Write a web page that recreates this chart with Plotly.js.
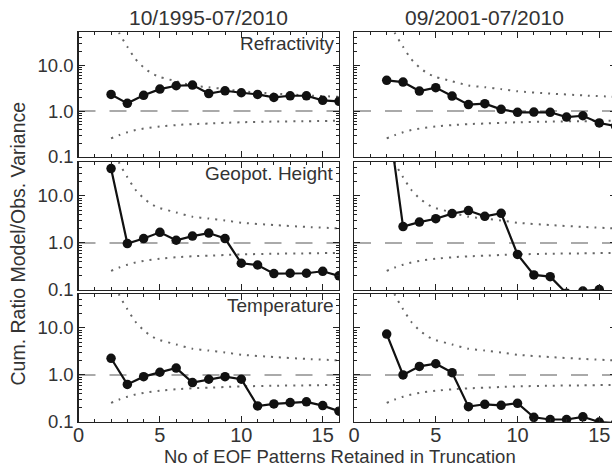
<!DOCTYPE html>
<html>
<head>
<meta charset="utf-8">
<script src="https://cdn.plot.ly/plotly-3.0.1.min.js"></script>
<style>
html,body{margin:0;padding:0;overflow:hidden;background:#fff;}
#chart{width:620px;height:467px;}
</style>
</head>
<body>
<div id="chart"></div>
<script>
// ---- data ----
const eofN = [2,3,4,5,6,7,8,9,10,11,12,13,14,15,16];
const periods = ['10/1995-07/2010', '09/2001-07/2010'];
const variables = ['Refractivity', 'Geopot. Height', 'Temperature'];

const refracLong  = [2.3,1.47,2.2,3.0,3.55,3.67,2.4,2.76,2.5,2.3,1.98,2.15,2.15,1.71,1.63];
const refracShort = [4.65,4.27,2.72,3.23,2.12,1.38,1.45,1.09,0.94,0.95,0.94,0.74,0.79,0.55,0.47];
const geopotLong  = [38,0.97,1.24,1.68,1.14,1.40,1.62,1.24,0.37,0.34,0.223,0.227,0.227,0.25,0.2];
const geopotShort = [800,2.23,2.77,3.27,4.2,4.88,3.67,4.27,0.57,0.209,0.192,0.085,0.095,0.102,0.08];
const tempLong    = [2.26,0.63,0.92,1.14,1.40,0.69,0.81,0.92,0.81,0.219,0.242,0.259,0.268,0.223,0.17];
const tempShort   = [7.4,1.0,1.52,1.73,1.12,0.212,0.238,0.226,0.25,0.126,0.113,0.113,0.129,0.1,0.095];

// significance bounds (dotted), same in every panel
const boundX     = [2,2.5,3,3.5,4,4.5,5,6,7,8,9,10,12,14,16];
const boundUpper = [160,50,25,13.5,8.9,6.6,5.5,4.45,3.6,3.3,3.0,2.69,2.4,2.19,2.04];
const boundLower = [0.255,0.30,0.345,0.385,0.415,0.44,0.46,0.495,0.52,0.535,0.555,0.57,0.59,0.60,0.615];

const refRatio = 1.0;
const xRange = [0,16];

const seriesGrid = [
  [refracLong, refracShort],
  [geopotLong, geopotShort],
  [tempLong, tempShort]
];

// ---- layout geometry ----
const W = 620, H = 467;
const colPx = [[78.5,339],[354,615.6]];
const rowPx = [[32,157],[162,290],[294,422]];

const FONT = 'Liberation Sans, Arial, Helvetica, sans-serif';
const TXT = '#333';
const AX = '#222';

const traces = [];
const layout = {
  width: W, height: H,
  margin: {l:0,r:0,t:0,b:0},
  paper_bgcolor: '#fff', plot_bgcolor: '#fff',
  showlegend: false,
  font: {family: FONT, color: TXT},
  annotations: []
};

const minorY = [];
[0.1,1,10].forEach(d => { for (let k=2;k<=9;k++) minorY.push(d*k); });

let idx = 0;
for (let r=0;r<3;r++){
  for (let c=0;c<2;c++){
    idx++;
    const sfx = idx===1 ? '' : String(idx);
    const xn = 'x'+sfx, yn = 'y'+sfx;
    layout['xaxis'+sfx] = {
      domain: [colPx[c][0]/W, colPx[c][1]/W],
      anchor: yn,
      range: xRange,
      tickmode: 'linear', tick0: 0, dtick: 5,
      ticks: 'inside', ticklen: 6, tickwidth: 1, tickcolor: AX,
      showline: true, linecolor: AX, linewidth: 1.2, mirror: 'allticks',
      showgrid: false, zeroline: false,
      showticklabels: r===2,
      ticklabelstandoff: -5,
      tickfont: {family: FONT, size: 20, color: TXT},
      minor: {dtick: 1, tick0: 0, ticks: 'inside', ticklen: 3, tickcolor: AX, showgrid: false}
    };
    layout['yaxis'+sfx] = {
      domain: [1-rowPx[r][1]/H, 1-rowPx[r][0]/H],
      anchor: xn,
      type: 'log',
      range: [-1, 1.72],
      tickmode: 'array', tickvals: [0.1,1,10], ticktext: ['0.1','1.0','10.0'],
      ticks: 'inside', ticklen: 6, tickwidth: 1, tickcolor: AX,
      showline: true, linecolor: AX, linewidth: 1.2, mirror: 'allticks',
      showgrid: false, zeroline: false,
      showticklabels: c===0,
      tickfont: {family: FONT, size: 18.5, color: TXT},
      minor: {tickmode: 'array', tickvals: minorY, ticks: 'inside', ticklen: 3, tickcolor: AX, showgrid: false}
    };
    // reference line at ratio 1
    traces.push({x: xRange, y: [refRatio, refRatio], xaxis: xn, yaxis: yn, mode: 'lines',
      line: {color: '#aaaaaa', width: 2, dash: '17px,14px'}, hoverinfo: 'skip'});
    // bounds
    traces.push({x: boundX, y: boundUpper, xaxis: xn, yaxis: yn, mode: 'lines',
      line: {color: '#666', width: 2, dash: '2px,6px', shape: 'spline', smoothing: 0.6}, hoverinfo: 'skip'});
    traces.push({x: boundX, y: boundLower, xaxis: xn, yaxis: yn, mode: 'lines',
      line: {color: '#666', width: 2, dash: '2px,6px', shape: 'spline', smoothing: 0.6}, hoverinfo: 'skip'});
    // data
    traces.push({x: eofN, y: seriesGrid[r][c], xaxis: xn, yaxis: yn, mode: 'lines+markers',
      line: {color: '#111', width: 2.2}, marker: {color: '#111', size: 9.5, symbol: 'circle'}});
    // variable label (left column only)
    if (c===0){
      layout.annotations.push({text: variables[r], xref: xn+' domain', yref: yn+' domain',
        x: 0.99, y: 0.91, xanchor: 'right', yanchor: 'middle', showarrow: false,
        font: {family: FONT, size: 19, color: TXT}});
    }
  }
}

// column titles
for (let c=0;c<2;c++){
  layout.annotations.push({text: periods[c], xref: 'paper', yref: 'paper',
    x: ((colPx[c][0]+colPx[c][1])/2)/W, y: 1-18/H, xanchor: 'center', yanchor: 'middle',
    showarrow: false, font: {family: FONT, size: 21, color: TXT}});
}
// axis titles
layout.annotations.push({text: 'No of EOF Patterns Retained in Truncation', xref: 'paper', yref: 'paper',
  x: 340/W, y: 1-456.5/H, xanchor: 'center', yanchor: 'middle', showarrow: false,
  font: {family: FONT, size: 18.5, color: TXT}});
layout.annotations.push({text: 'Cum. Ratio Model/Obs. Variance', xref: 'paper', yref: 'paper',
  x: 17/W, y: 1-243.5/H, xanchor: 'center', yanchor: 'middle', textangle: -90, showarrow: false,
  font: {family: FONT, size: 19.5, color: TXT}});

Plotly.newPlot('chart', traces, layout, {staticPlot: true, displayModeBar: false});
</script>
</body>
</html>
